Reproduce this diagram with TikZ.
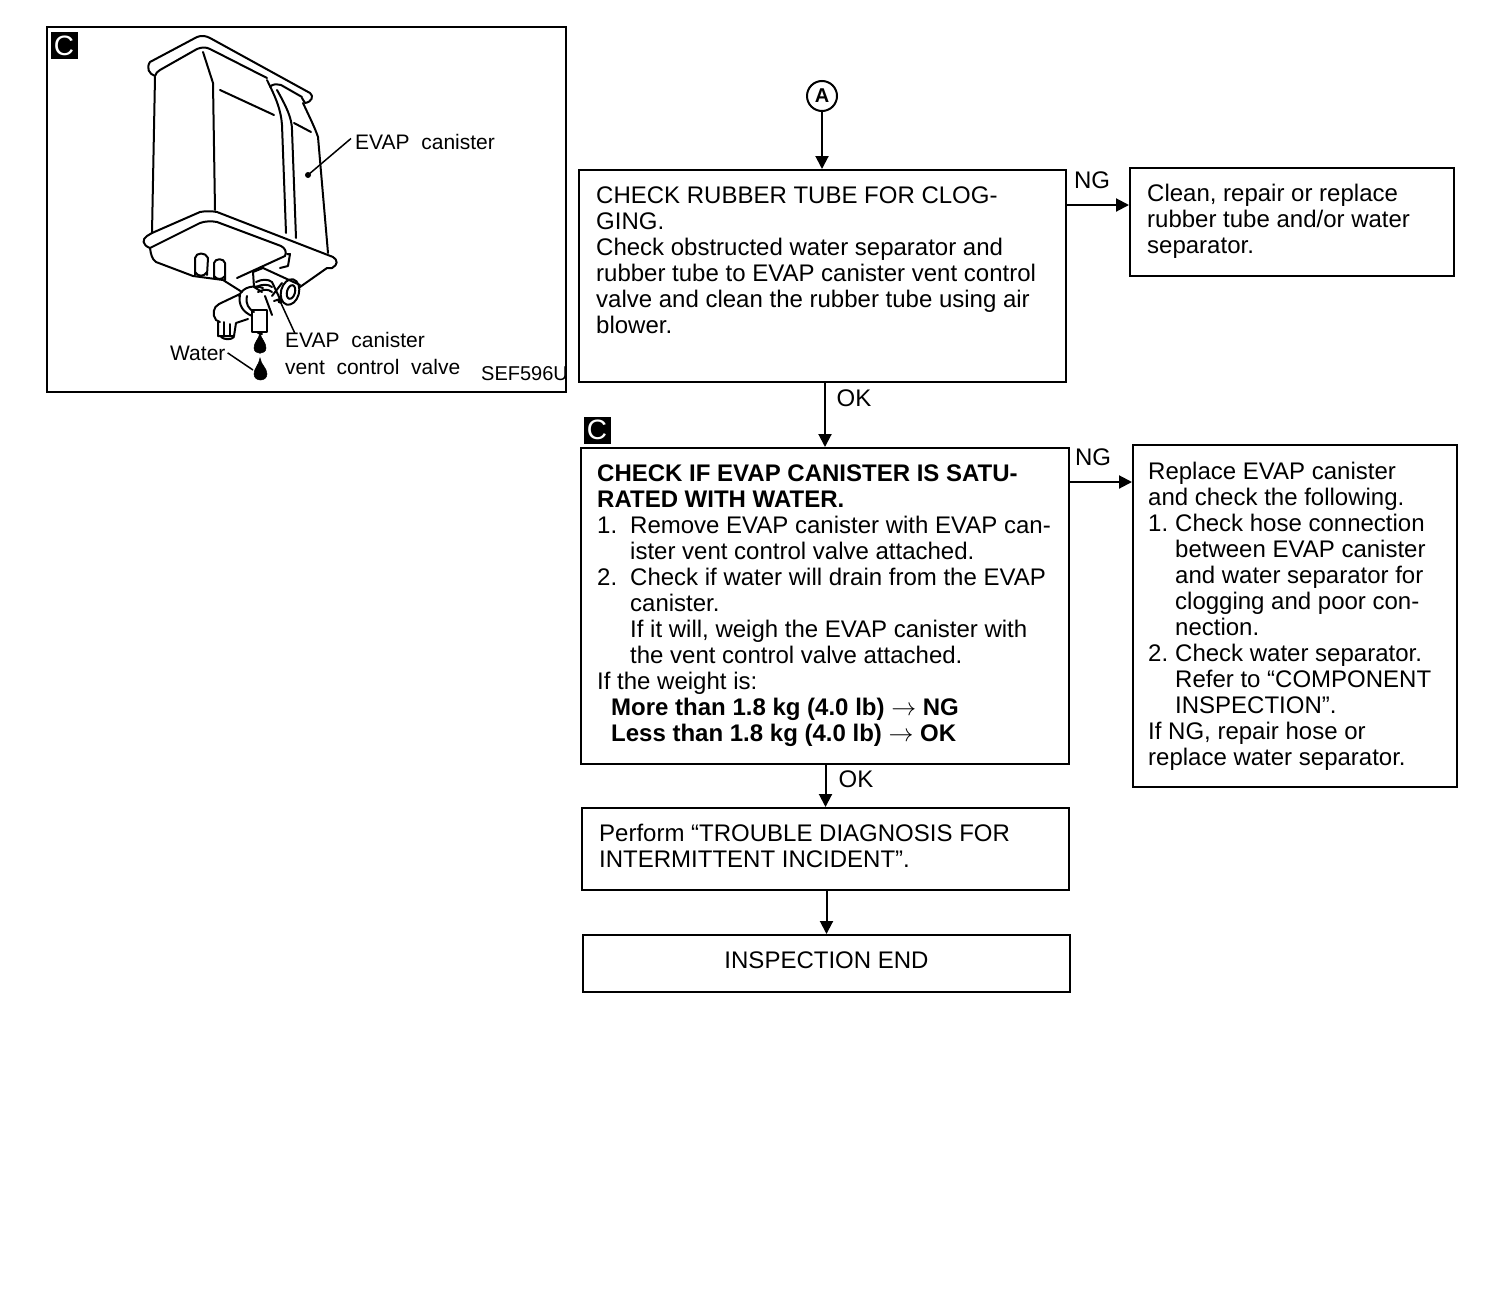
\documentclass[tikz,border=0pt]{standalone}
\usepackage{fontspec}
\setmainfont{Liberation Sans}
\usetikzlibrary{arrows.meta,calc}
\tikzset{
  flowbox/.style={draw,line width=2pt,inner sep=0pt},
  flowtext/.style={anchor=north west,align=left,inner sep=0pt,font=\fontsize{24}{26}\selectfont},
  flowtag/.style={font=\fontsize{24}{26}\selectfont,inner sep=0pt},
  flowline/.style={line width=2pt,-{Triangle[length=13pt,width=13pt]}},
  partlabel/.style={anchor=base west,inner sep=0pt,font=\fontsize{21}{26}\selectfont},
  badge/.style={fill=black,text=white,minimum size=27pt,inner sep=0pt,font=\fontsize{28}{26}\selectfont},
  part/.style={line width=2pt,line join=round,line cap=round},
  leader/.style={line width=1.5pt},
  drop/.style={fill=black,draw=black,line width=.5pt}
}
\newcommand{\indentline}{\hspace*{33pt}}
\newcommand{\indentshort}{\hspace*{27pt}}
\newcommand{\numline}[1]{\makebox[33pt][l]{#1}}
\newcommand{\numshort}[1]{\makebox[27pt][l]{#1}}
\begin{document}
\begin{tikzpicture}[x=1pt,y=-1pt]
\useasboundingbox (0,0) rectangle (1504,1290);
% inset with the canister
\node[flowbox,minimum width=519pt,minimum height=365pt] (inset) at (306.5,209.5) {};
\node[badge] (insetbadge) at (64,46) {C};
% top flange
\draw[part] (155,76) .. controls (149,74) and (146,68) .. (150,62) -- (197,37) .. controls (202,35) and (206,36) .. (210,38) -- (310,93) .. controls (314,96) and (312,102) .. (305,103) -- (302,98);
\draw[part] (155,76) .. controls (156,73) and (157,72) .. (160,70) -- (197,49) .. controls (202,47) and (206,47) .. (210,49) -- (267,78);
\draw[part] (270,87) .. controls (272,84) and (276,84) .. (281,85) -- (302,97);
% body
\draw[part] (155,77) -- (152,233);
\draw[part] (203,52) -- (213,83) -- (215,210);
\draw[part] (303,103) .. controls (310,118) and (315,128) .. (318,137) -- (328,253);
\draw[part] (267,80) .. controls (276,98) and (281,110) .. (282,125) -- (286,233);
\draw[part] (277,90) .. controls (286,106) and (292,118) .. (292,130) -- (296,238);
\draw[part] (220,90) -- (274,115);
\draw[part] (294,123) -- (311,132);
% bottom flange
\draw[part] (152,233) -- (147,236) .. controls (142,239) and (142,245) .. (150,248);
\draw[part] (152,233) -- (200,212) .. controls (205,211) and (212,211) .. (217,212) -- (333,257) .. controls (338,260) and (338,265) .. (332,268);
\draw[part] (150,248) -- (200,223) .. controls (205,221) and (212,221) .. (217,222) -- (281,246) .. controls (285,248) and (287,252) .. (285,256) -- (237,278);
\draw[part] (150,248) .. controls (151,255) and (152,259) .. (156,262) -- (193,276) -- (223,280) -- (242,292);
\draw[part] (332,268) -- (327,268) -- (300,287);
\draw[part] (287,254) -- (290,254) -- (288,266) -- (280,268);
% drain stubs
\draw[part] (195,275) -- (195,258) .. controls (196,252) and (206,252) .. (208,258) -- (207,275);
\draw[part] (195,272) .. controls (198,277) and (204,277) .. (207,272);
\draw[part] (214,278) -- (214,263) .. controls (215,258) and (224,258) .. (225,263) -- (225,280);
\draw[part] (214,276) .. controls (217,280) and (222,280) .. (225,276);
% valve
\draw[part] (253,272) -- (263,268) -- (300,285);
\draw[part] (253,272) -- (254,287) -- (262,292);
\draw[part] (290,292) ellipse[x radius=9pt,y radius=13pt,rotate=-15];
\draw[part] (291,292) ellipse[x radius=4pt,y radius=7pt,rotate=-15];
\draw[part] (256,282) .. controls (262,279) and (268,279) .. (272,282);
\draw[part] (256,287) .. controls (262,284) and (268,284) .. (272,287);
\draw[part] (258,292) .. controls (264,289) and (268,289) .. (272,292);
\draw[part] (272,282) -- (280,299) -- (274,301);
\draw[part] (282,283) -- (272,296);
\draw[part] (265,296) -- (272,315);
\draw[part] (239,296) .. controls (243,286) and (255,285) .. (263,288);
\draw[part] (240,295) .. controls (238,305) and (243,312) .. (252,316);
\draw[part] (247,296) .. controls (245,304) and (249,309) .. (254,312);
\draw[part] (240,294) -- (219,304) .. controls (213,307) and (212,315) .. (216,320) -- (220,322);
\draw[part] (218,322) -- (218,336) -- (234,336) -- (236,323) -- (248,319);
\draw[part] (224,322) -- (224,336);
\draw[part] (230,324) -- (230,336);
\draw[part] (221,337) .. controls (225,340) and (231,340) .. (234,337);
\draw[part] (252,310) -- (252,332) -- (267,332) -- (267,310) -- (252,310);
\draw[part] (258,333) -- (262,334);
% water drops
\draw[drop] (260,333) .. controls (259,339) and (254,342) .. (254,348) .. controls (254,355) and (266,355) .. (266,348) .. controls (266,342) and (261,339) .. (260,333) -- cycle;
\draw[drop] (260,358) .. controls (259,365) and (254,368) .. (254,374) .. controls (254,382) and (267,382) .. (267,374) .. controls (267,368) and (261,365) .. (260,358) -- cycle;
% part labels
\node[partlabel] (canlabel) at (355,149) {EVAP\ \ canister};
\node[partlabel] (valvelabel) at (285,347) {EVAP\ \ canister};
\node[partlabel] (ventlabel) at (285,374) {vent\ \ control\ \ valve};
\node[partlabel] (waterlabel) at (170,360) {Water};
\node[partlabel,font=\fontsize{20}{26}\selectfont] (figlabel) at (481,380) {SEF596U};
\coordinate (candot) at (308,175);
\coordinate (valvedot) at (280,301);
\coordinate (waterdot) at (253,370);
\draw[leader] (canlabel.west) ++(-4,-3) -- (candot);
\fill (candot) circle (3pt);
\draw[leader] (valvelabel.north west) ++(10,2) -- (valvedot);
\fill (valvedot) circle (2.5pt);
\draw[leader] (waterlabel.east) ++(2,0) -- (waterdot);
% flow chart boxes
\node[draw,circle,line width=2pt,minimum size=30pt,inner sep=0pt,font=\fontsize{20}{26}\selectfont\bfseries] (start) at (822,96) {A};
\node[flowbox,minimum width=487pt,minimum height=212pt] (tube) at (822.5,276) {};
\node[flowbox,minimum width=324pt,minimum height=108pt] (clean) at (1292,222) {};
\node[badge] (flowbadge) at (597,430) {C};
\node[flowbox,minimum width=488pt,minimum height=316pt] (sat) at (825,606) {};
\node[flowbox,minimum width=324pt,minimum height=342pt] (replace) at (1295,616) {};
\node[flowbox,minimum width=487pt,minimum height=82pt] (perform) at (825.5,849) {};
\node[flowbox,minimum width=487pt,minimum height=57pt] (inspend) at (826.5,963.5) {};
% box texts
\node[flowtext] (tubetext) at (596,186.5) {CHECK RUBBER TUBE FOR CLOG-\\GING.\\Check obstructed water separator and\\rubber tube to EVAP canister vent control\\valve and clean the rubber tube using air\\blower.};
\node[flowtext] (cleantext) at (1147,184) {Clean, repair or replace\\rubber tube and/or water\\separator.};
\node[flowtext] (sattext) at (597,464.5) {\textbf{CHECK IF EVAP CANISTER IS SATU-}\\\textbf{RATED WITH WATER.}\\\numline{1.}Remove EVAP canister with EVAP can-\\\indentline ister vent control valve attached.\\\numline{2.}Check if water will drain from the EVAP\\\indentline canister.\\\indentline If it will, weigh the EVAP canister with\\\indentline the vent control valve attached.\\If the weight is:\\\hspace*{14pt}\textbf{More than 1.8 kg (4.0 lb) $\rightarrow$ NG}\\\hspace*{14pt}\textbf{Less than 1.8 kg (4.0 lb) $\rightarrow$ OK}};
\node[flowtext] (replacetext) at (1148,462) {Replace EVAP canister\\and check the following.\\\numshort{1.}Check hose connection\\\indentshort between EVAP canister\\\indentshort and water separator for\\\indentshort clogging and poor con-\\\indentshort nection.\\\numshort{2.}Check water separator.\\\indentshort Refer to “COMPONENT\\\indentshort INSPECTION”.\\If NG, repair hose or\\replace water separator.};
\node[flowtext] (performtext) at (599,823.5) {Perform “TROUBLE DIAGNOSIS FOR\\INTERMITTENT INCIDENT”.};
\node[flowtag] (endtext) at (826.5,960) {INSPECTION END};
% connectors
\coordinate (ngtube) at (1066,205);
\coordinate (ngsat) at (1069,482);
\draw[flowline] (start) -- (start |- tube.north);
\draw[flowline] (ngtube) -- (ngtube -| clean.west);
\draw[flowline] (sat.north |- tube.south) -- (sat.north);
\draw[flowline] (ngsat) -- (ngsat -| replace.west);
\draw[flowline] (perform.north |- sat.south) -- (perform.north);
\draw[flowline] (inspend.north |- perform.south) -- (inspend.north);
\node[flowtag] (ngone) at (1092,180) {NG};
\node[flowtag] (ngtwo) at (1093,457) {NG};
\node[flowtag] (okone) at (854,398) {OK};
\node[flowtag] (oktwo) at (856,779) {OK};
\end{tikzpicture}
\end{document}
